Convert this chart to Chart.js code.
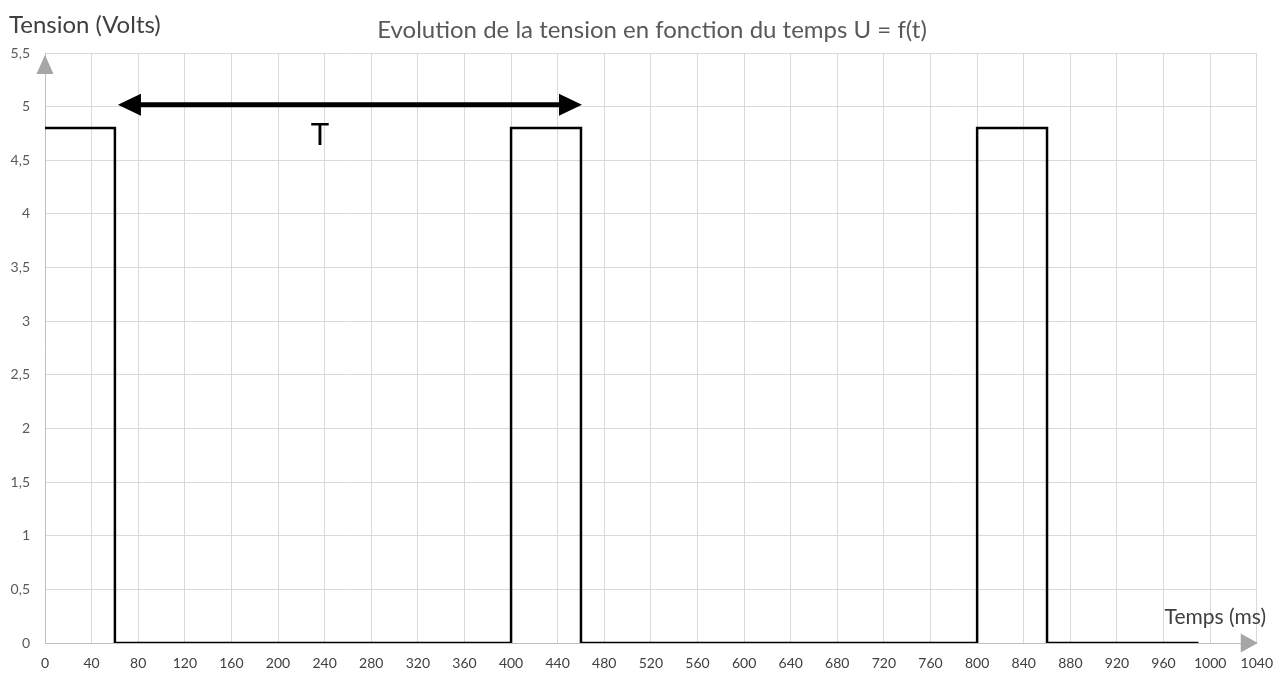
<!DOCTYPE html>
<html>
<head>
<meta charset="utf-8">
<script src="https://cdn.jsdelivr.net/npm/chart.js@4.4.0/dist/chart.umd.min.js"></script>
<style>
  html, body { margin: 0; padding: 0; background: #fff; }
  #wrap { width: 1285px; height: 678px; }
</style>
</head>
<body>
<div id="wrap"><canvas id="chart" width="1285" height="678"></canvas></div>
<script>
// Square wave U = f(t)
const times = [0, 60, 60, 400, 400, 460, 460, 800, 800, 860, 860, 990];
const volts = [4.8, 4.8, 0, 0, 4.8, 4.8, 0, 0, 4.8, 4.8, 0, 0];

// Period arrow (T) from 60 to 460 ms at 5 V
const periodStart = 60;
const periodEnd = 460;
const periodLevel = 5;
const periodLabel = 'T';

const titleText = 'Evolution de la tension en fonction du temps U = f(t)';
const yTitle = 'Tension (Volts)';
const xTitle = 'Temps (ms)';

const xTicks = [0, 40, 80, 120, 160, 200, 240, 280, 320, 360, 400, 440, 480, 520, 560, 600,
  640, 680, 720, 760, 800, 840, 880, 920, 960, 1000, 1040];
const yTicks = [0, 0.5, 1, 1.5, 2, 2.5, 3, 3.5, 4, 4.5, 5, 5.5];

const points = times.map((t, i) => ({ x: t, y: volts[i] }));

const fmtComma = v => String(v).replace('.', ',');

// draws titles, axis arrowheads and the period arrow
const decorations = {
  id: 'decorations',
  afterDatasetsDraw(chart) {
    const { ctx, chartArea, scales } = chart;
    const xs = scales.x, ys = scales.y;
    ctx.save();

    // titles
    ctx.fillStyle = '#595959';
    ctx.font = '24px Lato';
    ctx.textAlign = 'center';
    ctx.textBaseline = 'alphabetic';
    ctx.fillText(titleText, 652, 38);

    ctx.fillStyle = '#404040';
    ctx.font = '24px Lato';
    ctx.textAlign = 'left';
    ctx.fillText(yTitle, 9, 33);
    ctx.font = '21px Lato';
    ctx.textAlign = 'right';
    ctx.fillText(xTitle, 1266, 624);

    // axis arrowheads
    ctx.fillStyle = '#a6a6a6';
    const ax = chartArea.left, ay = chartArea.bottom;
    ctx.beginPath();
    ctx.moveTo(ax, chartArea.top + 2);
    ctx.lineTo(ax - 8.5, chartArea.top + 21);
    ctx.lineTo(ax + 8.5, chartArea.top + 21);
    ctx.closePath();
    ctx.fill();
    ctx.beginPath();
    ctx.moveTo(chartArea.right + 1, ay);
    ctx.lineTo(chartArea.right - 16, ay - 9.5);
    ctx.lineTo(chartArea.right - 16, ay + 9.5);
    ctx.closePath();
    ctx.fill();

    // period arrow
    const x1 = xs.getPixelForValue(periodStart) + 3;
    const x2 = xs.getPixelForValue(periodEnd) + 1;
    const py = ys.getPixelForValue(periodLevel) - 2;
    ctx.fillStyle = '#000';
    ctx.strokeStyle = '#000';
    ctx.lineWidth = 5;
    ctx.beginPath();
    ctx.moveTo(x1 + 18, py);
    ctx.lineTo(x2 - 18, py);
    ctx.stroke();
    ctx.beginPath();
    ctx.moveTo(x1, py);
    ctx.lineTo(x1 + 23, py - 11);
    ctx.lineTo(x1 + 23, py + 11);
    ctx.closePath();
    ctx.fill();
    ctx.beginPath();
    ctx.moveTo(x2, py);
    ctx.lineTo(x2 - 23, py - 11);
    ctx.lineTo(x2 - 23, py + 11);
    ctx.closePath();
    ctx.fill();

    ctx.font = '31px "Liberation Sans"';
    ctx.textAlign = 'center';
    ctx.fillText(periodLabel, 320, 145);

    ctx.restore();
  }
};

new Chart(document.getElementById('chart'), {
  type: 'scatter',
  data: {
    datasets: [{
      data: points,
      showLine: true,
      borderColor: '#000',
      borderWidth: 2.5,
      pointRadius: 0,
      tension: 0,
      fill: false
    }]
  },
  options: {
    responsive: false,
    animation: false,
    layout: { padding: { top: 53, right: 28, left: 0, bottom: 0 } },
    plugins: {
      legend: { display: false },
      tooltip: { enabled: false }
    },
    scales: {
      x: {
        type: 'linear',
        min: xTicks[0],
        max: xTicks[xTicks.length - 1],
        afterBuildTicks: s => { s.ticks = xTicks.map(v => ({ value: v })); },
        afterFit: s => { s.height = 35; },
        grid: { color: '#d9d9d9', lineWidth: 1, drawTicks: false },
        border: { color: '#bfbfbf' },
        ticks: {
          padding: 12,
          maxRotation: 0,
          autoSkip: false,
          color: '#404040',
          font: { family: 'Lato', size: 14 },
          callback: v => String(v)
        }
      },
      y: {
        min: yTicks[0],
        max: yTicks[yTicks.length - 1],
        afterBuildTicks: s => { s.ticks = yTicks.map(v => ({ value: v })); },
        afterFit: s => { s.width = 45; },
        grid: { color: '#d9d9d9', lineWidth: 1, drawTicks: false },
        border: { color: '#bfbfbf' },
        ticks: {
          padding: 15,
          color: '#595959',
          font: { family: 'Lato', size: 14 },
          callback: v => fmtComma(v)
        }
      }
    }
  },
  plugins: [decorations]
});
</script>
</body>
</html>
